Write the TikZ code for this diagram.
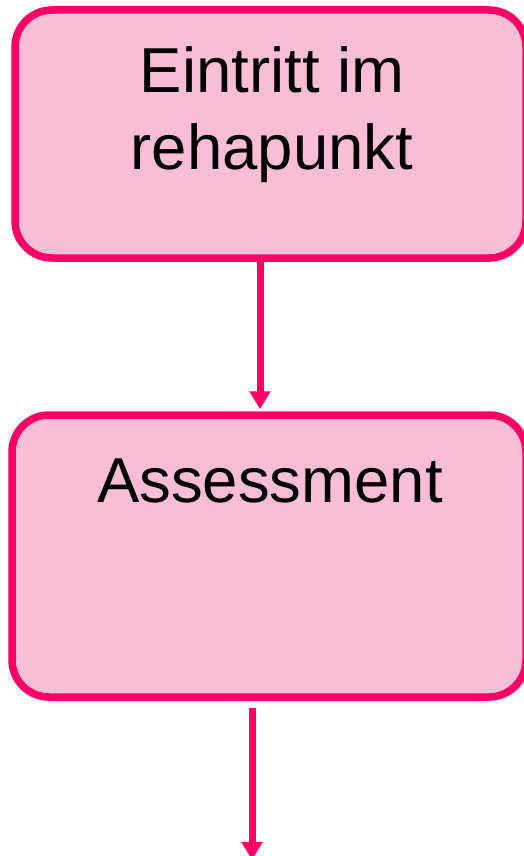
\documentclass[tikz,border=0pt]{standalone}
\usepackage{fontspec}
\setmainfont{Liberation Sans}
\usetikzlibrary{arrows.meta}
\definecolor{edgepink}{RGB}{255,0,102}
\definecolor{fillpink}{RGB}{249,190,213}
\tikzset{
  flowbox/.style={draw=edgepink, fill=fillpink, line width=7.5pt, rounded corners=37pt, inner sep=0pt},
  bigtext/.style={font=\fontsize{63.5}{77}\selectfont, align=center, inner sep=0pt, text=black},
  flowarrow/.style={draw=edgepink, line width=7pt, -{Triangle[length=18pt,width=20pt]}}
}
\begin{document}
\begin{tikzpicture}[x=1pt,y=-1pt]
\useasboundingbox (0,0) rectangle (524,856);
\node[flowbox, minimum width=511pt, minimum height=248pt] (a) at (270.5,134) {};
\node[bigtext, anchor=base] (at1) at (272,169) {Eintritt im\\rehapunkt};
\node[flowbox, minimum width=514pt, minimum height=282pt] (b) at (269,556) {};
\node[bigtext, anchor=base] (bt) at (270,502) {Assessment};
\coordinate (x1) at (260,0);
\coordinate (x2) at (252,0);
\coordinate (endpt) at (252,860);
\draw[flowarrow, shorten >=2pt] (a.south -| x1) -- (b.north -| x1);
\draw[flowarrow] ([yshift=-7pt]b.south -| x2) -- (endpt);
\end{tikzpicture}
\end{document}
